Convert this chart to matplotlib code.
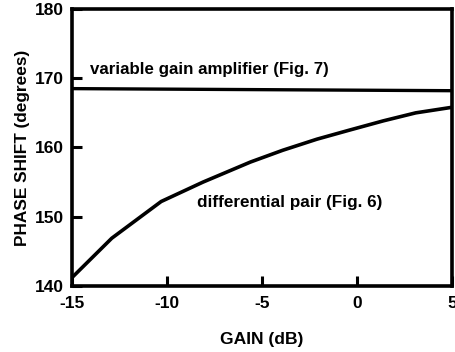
import matplotlib
matplotlib.use("Agg")
import matplotlib.pyplot as plt

# values
gain_diff = [-15, -12.9, -10.3, -8.1, -5.6, -3.9, -2.1, -0.4, 1.4, 3.1, 5.0]
phase_diff = [141.2, 146.9, 152.2, 155.0, 157.9, 159.6, 161.2, 162.5, 163.85, 165.0, 165.8]

gain_vga = [-15, 5]
phase_vga = [168.5, 168.2]

xticks = [-15, -10, -5, 0, 5]
yticks = [140, 150, 160, 170, 180]

plt.rcParams['font.family'] = ['Liberation Sans', 'DejaVu Sans']
plt.rcParams['font.weight'] = 'bold'
plt.rcParams['axes.unicode_minus'] = False

fig = plt.figure(figsize=(4.55, 3.52), dpi=100)
ax = fig.add_axes([0.158, 0.1875, 0.835, 0.787])

ax.plot(gain_diff, phase_diff, color='black', linewidth=2.6, solid_capstyle='butt')
ax.plot(gain_vga, phase_vga, color='black', linewidth=2.4)

ax.text(-14.05, 171.3, 'variable gain amplifier (Fig. 7)', fontsize=12.2,
        fontweight='bold', va='center', ha='left')
ax.text(-8.4, 152.0, 'differential pair (Fig. 6)', fontsize=12.3,
        fontweight='bold', va='center', ha='left')

ax.set_xlim(-15, 5)
ax.set_ylim(140, 180)
ax.set_xticks(xticks)
ax.set_yticks(yticks)
ax.tick_params(direction='in', length=7, width=2.2, labelsize=12.5)
ax.tick_params(axis='x', pad=7)
ax.tick_params(axis='y', pad=6)
for lab in ax.get_xticklabels() + ax.get_yticklabels():
    lab.set_fontweight('bold')

for spine in ax.spines.values():
    spine.set_linewidth(2.6)

ax.set_xlabel('GAIN (dB)', fontsize=12.6, fontweight='bold', labelpad=15)
ax.set_ylabel('PHASE SHIFT (degrees)', fontsize=12.4, fontweight='bold', labelpad=3)

fig.savefig('out.png', dpi=100)
